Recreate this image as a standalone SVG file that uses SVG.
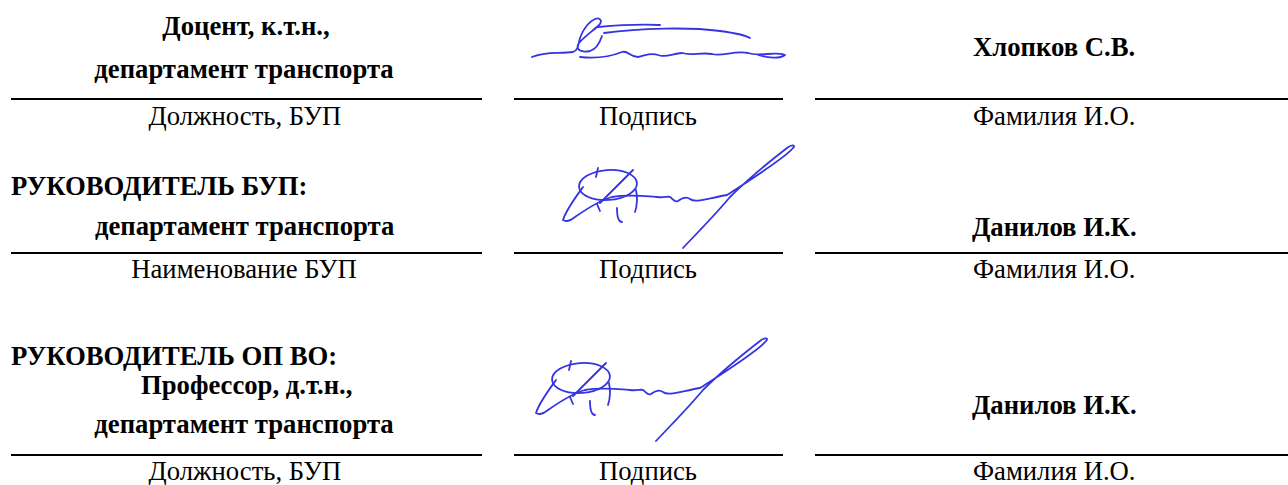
<svg xmlns="http://www.w3.org/2000/svg" width="1288" height="485" viewBox="0 0 1288 485">
<defs>
<style>
.t{font-family:"Liberation Serif","Times New Roman",serif;font-size:26.7px;fill:#000}
.b{font-weight:bold}
.c{text-anchor:middle}
.ln{stroke:#000;stroke-width:2;fill:none}
.sig{stroke:#3434e2;stroke-width:1.8;fill:none;stroke-linecap:round;stroke-linejoin:round}
</style>
<g id="sig2shape">
<ellipse cx="608" cy="185" rx="29" ry="15" class="sig" transform="rotate(-4 608 185)"/>
<path class="sig" d="M598 168 L596 177 M583 187 C575 198 566 210 563 220 C566 222 570 221 575 217 C588 208 600 200 612 197 C628 194 645 196 657 197 C664 198 668 196 670 197 C673 199 675 203 678 201 C682 198 686 196 690 199 C695 203 705 199 727 195 C750 180 785 158 793 148 C796 145 792 144 787 148 C765 165 742 185 730 197 C715 215 698 232 683 248"/>
<path class="sig" d="M633 170 L600 203 M597 204 L600 211 M617 208 C617 215 618 222 622 222 M636 190 C638 200 637 206 635 212"/>
</g>
</defs>
<rect width="1288" height="485" fill="#fff"/>
<g id="connectors">
<line class="ln" x1="11" y1="99" x2="482" y2="99"/>
<line class="ln" x1="514" y1="99" x2="783" y2="99"/>
<line class="ln" x1="815" y1="99" x2="1288" y2="99"/>
<line class="ln" x1="11" y1="253" x2="482" y2="253"/>
<line class="ln" x1="514" y1="253" x2="783" y2="253"/>
<line class="ln" x1="815" y1="253" x2="1288" y2="253"/>
<line class="ln" x1="11" y1="455" x2="482" y2="455"/>
<line class="ln" x1="514" y1="455" x2="783" y2="455"/>
<line class="ln" x1="815" y1="455" x2="1288" y2="455"/>
</g>
<g id="row1-position">
<text class="t b c" x="246" y="35">Доцент, к.т.н.,</text>
<text class="t b c" x="244" y="78">департамент транспорта</text>
<text class="t c" x="245" y="125">Должность, БУП</text>
</g>
<g id="row1-signature">
<path class="sig" d="M532 57 C545 51 560 54 573 52 C579 50 578 44 580 38 C583 30 588 22 595 19 C600 17 603 21 599 25 C594 30 585 36 579 43 C575 49 580 53 590 51 C597 49 600 42 602 36"/>
<path class="sig" d="M598 27 C620 25 640 24 660 25 M604 33 C640 28 690 27 720 31 C735 33 745 35 750 38"/>
<path class="sig" d="M580 57 C600 59 612 56 622 52 C628 50 630 57 638 57 C645 56 650 52 658 55 C665 58 672 54 682 53 C692 56 700 52 712 54 C722 57 735 50 748 53 C760 57 775 51 785 55 C780 59 768 58 758 55"/>
<text class="t c" x="648" y="125">Подпись</text>
</g>
<g id="row1-name">
<text class="t b" x="973" y="56">Хлопков С.В.</text>
<text class="t" x="973" y="125">Фамилия И.О.</text>
</g>
<g id="row2-position">
<text class="t b" x="11" y="195">РУКОВОДИТЕЛЬ БУП:</text>
<text class="t b" x="95" y="235">департамент транспорта</text>
<text class="t c" x="244" y="278">Наименование БУП</text>
</g>
<g id="row2-signature">
<use href="#sig2shape"/>
<text class="t c" x="648" y="278">Подпись</text>
</g>
<g id="row2-name">
<text class="t b" x="972" y="236">Данилов И.К.</text>
<text class="t" x="973" y="278">Фамилия И.О.</text>
</g>
<g id="row3-position">
<text class="t b" x="11" y="365">РУКОВОДИТЕЛЬ ОП ВО:</text>
<text class="t b" x="141" y="394">Профессор, д.т.н.,</text>
<text class="t b c" x="244" y="433">департамент транспорта</text>
<text class="t c" x="245" y="480">Должность, БУП</text>
</g>
<g id="row3-signature">
<use href="#sig2shape" transform="translate(-27 193)"/>
<text class="t c" x="648" y="480">Подпись</text>
</g>
<g id="row3-name">
<text class="t b" x="972" y="414">Данилов И.К.</text>
<text class="t" x="973" y="480">Фамилия И.О.</text>
</g>
</svg>
